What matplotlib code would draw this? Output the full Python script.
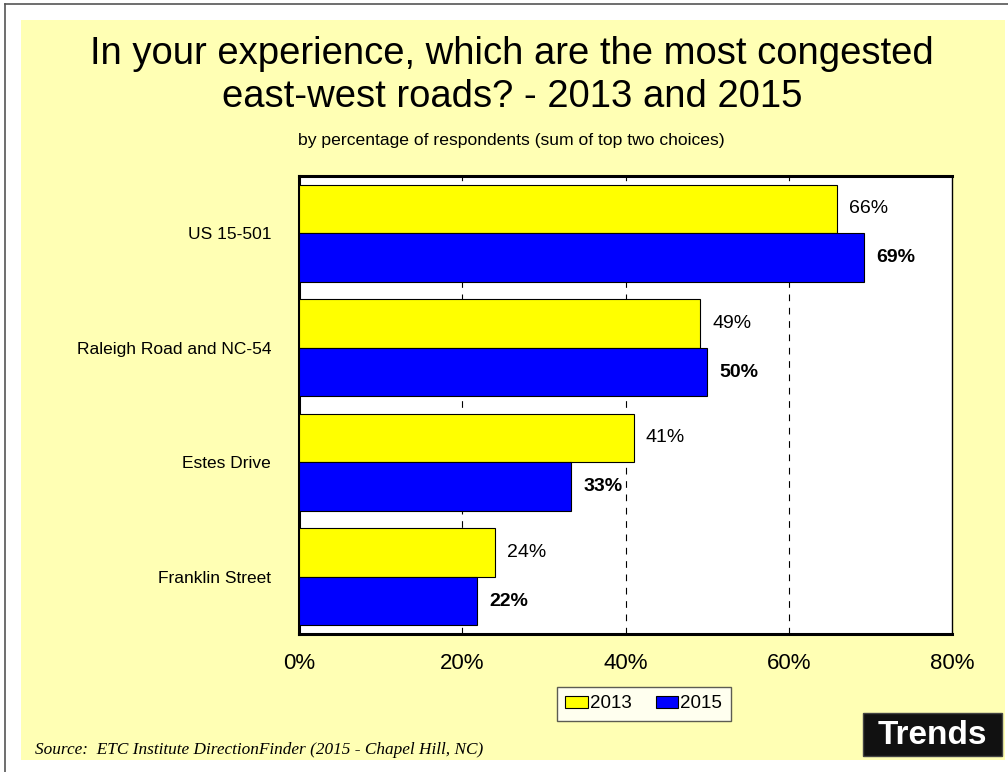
import matplotlib
matplotlib.use("Agg")
from matplotlib import pyplot as plt
from matplotlib.patches import Rectangle
from matplotlib.lines import Line2D
import numpy as np

plt.rcParams['font.family'] = ['Liberation Sans', 'DejaVu Sans']

# data
roads = ["US 15-501", "Raleigh Road and NC-54", "Estes Drive", "Franklin Street"]
pct_2013 = [65.9, 49.1, 41.0, 24.0]
pct_2015 = [69.2, 50.0, 33.3, 21.8]
years = ["2013", "2015"]
xticks = [0, 20, 40, 60, 80]

bg = "#FFFFB4"

fig = plt.figure(figsize=(10.08, 7.72), dpi=100, facecolor="white")

# yellow slide panel and the frame edge
fig.patches.append(Rectangle((21 / 1008, 1 - 760 / 772), (1005 - 21) / 1008, (760 - 20) / 772,
                             transform=fig.transFigure, facecolor=bg, edgecolor="none", zorder=-5))
fig.lines.append(Line2D([5 / 1008, 5 / 1008], [0, 1 - 4 / 772], transform=fig.transFigure,
                        color="#555555", lw=1.2))
fig.lines.append(Line2D([5 / 1008, 1], [1 - 4 / 772, 1 - 4 / 772], transform=fig.transFigure,
                        color="#555555", lw=1.2))

ax = fig.add_axes([299 / 1008, 1 - 634 / 772, (952 - 299) / 1008, (634 - 176) / 772])
ax.set_zorder(1)
ax.set_facecolor("white")

y = np.arange(len(roads))
h = 0.425
ax.barh(y - h / 2, pct_2013, height=h, color="#FFFF00", edgecolor="black", lw=0.8, zorder=3, label=years[0])
ax.barh(y + h / 2, pct_2015, height=h, color="#0000FF", edgecolor="black", lw=0.8, zorder=3, label=years[1])

for i in range(len(roads)):
    ax.text(pct_2013[i] + 1.5, y[i] - h / 2, "%d%%" % round(pct_2013[i]), va="center", ha="left", fontsize=14)
    ax.text(pct_2015[i] + 1.5, y[i] + h / 2, "%d%%" % round(pct_2015[i]), va="center", ha="left",
            fontsize=14, fontweight="bold")

ax.set_xlim(0, 80)
ax.set_ylim(len(roads) - 0.5, -0.5)
ax.set_xticks(xticks)
ax.set_xticklabels(["%d%%" % t for t in xticks], fontsize=16)
ax.set_yticks(y)
ax.set_yticklabels(roads, fontsize=12.5)
ax.tick_params(length=0, pad=14)
ax.tick_params(axis="y", pad=20)
for t in xticks[1:-1]:
    ax.axvline(t, color="black", lw=0.8, ls=(0, (6, 6)), zorder=1)

for s in ["left", "bottom", "top"]:
    ax.spines[s].set_linewidth(2.2)
ax.spines["right"].set_linewidth(1)

# legend box spans roughly x 557..748, y 688..720 in the reference
leg = ax.legend(loc="center left", bbox_to_anchor=(557 / 1008, 1 - 704 / 772), bbox_transform=fig.transFigure,
                ncol=2, fontsize=13.5, frameon=True, fancybox=False, edgecolor="#333333",
                handlelength=1.2, handleheight=0.6, handletextpad=0.1, columnspacing=1.3,
                borderpad=0.45, borderaxespad=0)
leg.get_frame().set_linewidth(1)
for p in leg.get_patches():
    p.set_linewidth(0.8)

fig.text(512 / 1008, 1 - 54 / 772, "In your experience, which are the most congested",
         ha="center", va="center", fontsize=27.5)
fig.text(512 / 1008, 1 - 97 / 772, "east-west roads? - 2013 and 2015",
         ha="center", va="center", fontsize=27.5)
fig.text(511 / 1008, 1 - 140 / 772, "by percentage of respondents (sum of top two choices)",
         ha="center", va="center", fontsize=12.6)

fig.text(35 / 1008, 1 - 754 / 772, "Source:  ETC Institute DirectionFinder (2015 - Chapel Hill, NC)",
         ha="left", va="baseline", fontsize=12.4, style="italic", family=["Liberation Serif"])

fig.patches.append(Rectangle((863 / 1008, 1 - 756 / 772), (1002 - 863) / 1008, (756 - 713) / 772,
                             transform=fig.transFigure, facecolor="#111111", edgecolor="#444444", zorder=2))
fig.text(932 / 1008, 1 - 735 / 772, "Trends", ha="center", va="center", fontsize=24,
         fontweight="bold", color="white", zorder=3)

fig.savefig("out.png", dpi=100, facecolor=fig.get_facecolor())
